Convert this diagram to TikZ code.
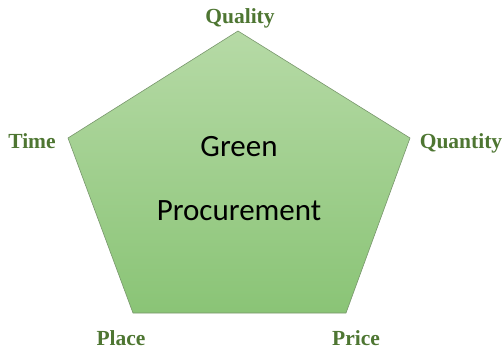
\documentclass[tikz,border=0pt]{standalone}
\usepackage{fontspec}
\setmainfont{Liberation Serif}
\newfontfamily\calib{Carlito}
\definecolor{lbl}{RGB}{78,118,50}
\definecolor{topg}{RGB}{182,218,166}
\definecolor{botg}{RGB}{138,196,118}
\definecolor{edge}{RGB}{120,150,108}
\begin{document}
\begin{tikzpicture}[x=1pt,y=-1pt,
  lab/.style={font=\fontsize{21.5}{23}\selectfont\bfseries, text=lbl, inner sep=0pt, anchor=base},
  ctr/.style={font=\calib\fontsize{31}{34}\selectfont, text=black, inner sep=0pt, anchor=base}]
\useasboundingbox (0,0) rectangle (503,350);
\coordinate (T) at (238,31);
\coordinate (L) at (68,138);
\coordinate (R) at (410,138);
\coordinate (BL) at (133,313);
\coordinate (BR) at (346,313);
\shade[top color=topg, bottom color=botg, draw=edge, line width=0.6pt]
  (T) -- (R) -- (BR) -- (BL) -- (L) -- cycle;
\node[lab] (q) at (240,24) {Quality};
\node[lab] (ti) at (32,148) {Time};
\node[lab] (qu) at (461,148) {Quantity};
\node[lab] (pl) at (121,345) {Place};
\node[lab] (pr) at (356,345) {Price};
\node[ctr] (g) at (239,157) {Green};
\node[ctr] (p) at (239,220) {Procurement};
\end{tikzpicture}
\end{document}
